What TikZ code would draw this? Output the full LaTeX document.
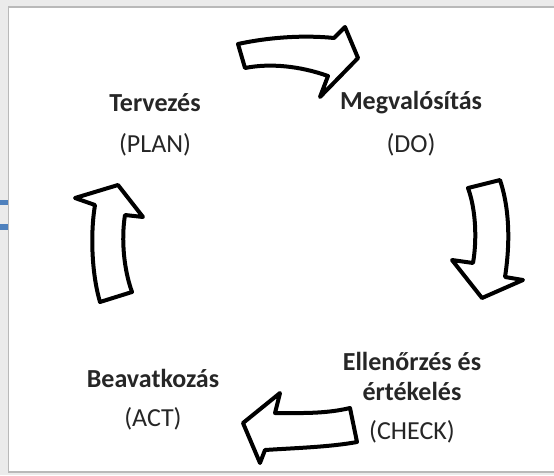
\documentclass[tikz,border=0pt]{standalone}
\usepackage{fontspec}
\setmainfont{Carlito}
\usetikzlibrary{positioning}
\definecolor{panelgray}{HTML}{EBEBEB}
\definecolor{textgray}{HTML}{262626}
\definecolor{titleblue}{HTML}{4F81BD}
\tikzset{
  phase/.style={
    font=\bfseries\fontsize{26}{30}\selectfont,
    text=textgray, inner sep=0pt, align=center
  },
  english/.style={
    font=\fontsize{26}{30}\selectfont,
    text=textgray, inner sep=0pt
  },
  blockarrow/.style={
    draw=black, fill=white, line width=4pt, line join=round
  }
}
\begin{document}
\begin{tikzpicture}[x=1pt,y=-1pt]
    \useasboundingbox (0,0) rectangle (554,475);
    \fill[panelgray] (0,0) rectangle (554,475);
    % what shows of a letter behind the panel
    \draw[titleblue, line width=5.5pt] (-2,202.5) -- (10,202.5);
    \draw[titleblue, line width=5.5pt] (-2,227) -- (10,227);
    \filldraw[fill=white, draw=gray!55, line width=1.5pt] (8.5,7) rectangle (580,472);
    % phase labels
    \node [phase] (plan) at (155,103) {Tervezés};
    \node [english, on grid, below=42pt of plan] (planEn) {(PLAN)};
    \node [phase] (do) at (411,103) {Megvalósítás};
    \node [english, on grid, below=42pt of do] (doEn) {(DO)};
    \node [phase] (check) at (412,376) {Ellenőrzés és\\értékelés};
    \node [english, on grid, below=56pt of check] (checkEn) {(CHECK)};
    \node [phase] (act) at (153,378) {Beavatkozás};
    \node [english, on grid, below=41pt of act] (actEn) {(ACT)};
    % block arrows
    \draw[blockarrow] (238,44) .. controls (270,37) and (305,35) .. (334,38)
      -- (345,27) -- (358,58) -- (320,97) -- (328,76)
      .. controls (300,66) and (270,63) .. (245,68) -- cycle;
    \draw[blockarrow] (468,188) -- (500,180)
      .. controls (510,210) and (510,245) .. (505,277)
      -- (523,280) -- (482,298) -- (452,260) -- (473,263)
      .. controls (477,240) and (476,210) .. (468,188) -- cycle;
    \draw[blockarrow] (350,408) .. controls (325,414) and (300,413) .. (275,413)
      -- (280,393) -- (243,423) -- (260,463) -- (265,450)
      .. controls (295,448) and (330,447) .. (357,442) -- cycle;
    \draw[blockarrow] (100,302) .. controls (92,275) and (90,235) .. (95,205)
      -- (75,198) -- (118,185) -- (143,217) -- (125,215)
      .. controls (121,240) and (124,270) .. (132,292) -- cycle;
\end{tikzpicture}
\end{document}
